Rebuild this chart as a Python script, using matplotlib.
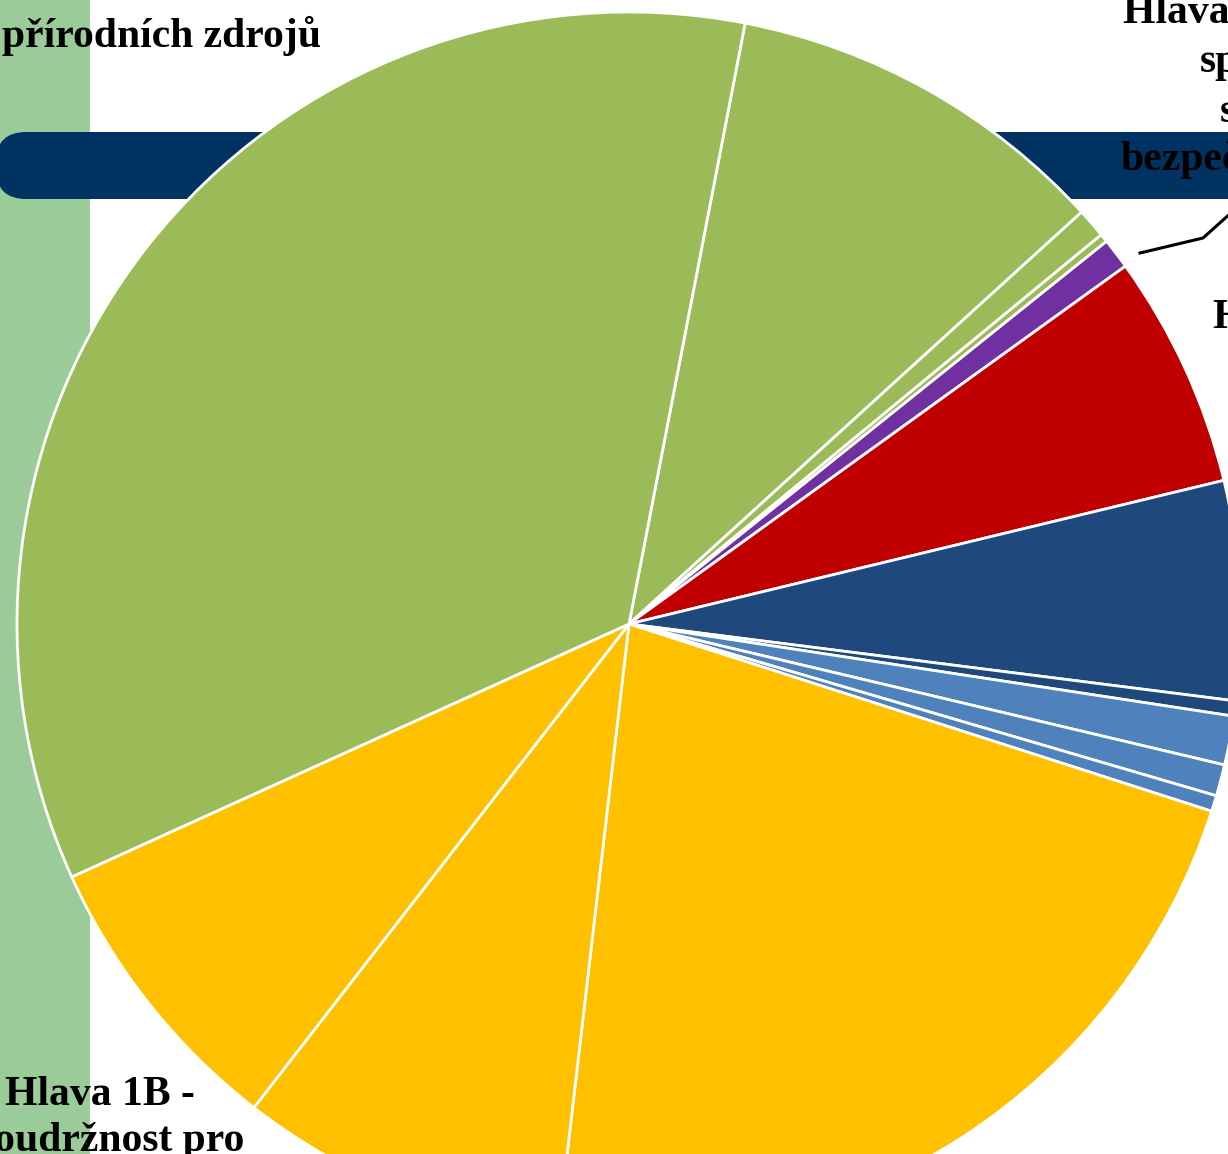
import matplotlib
matplotlib.use("Agg")
import matplotlib.pyplot as plt
from matplotlib.patches import FancyBboxPatch, Rectangle

# Slice shares (percent), clockwise from the top boundary
categories = ["Hlava 2 - c", "Hlava 2 - b", "Hlava 2 - a", "Hlava 3", "Hlava 4",
              "Hlava 5 - a", "Hlava 5 - b", "Hlava 5 - c", "Hlava 5 - d", "Hlava 5 - e",
              "Hlava 1A - a", "Hlava 1B - a", "Hlava 1B - b", "Hlava 2 - d"]
values = [10.21, 0.78, 0.22, 0.81, 6.17,
          5.78, 0.40, 1.29, 0.83, 0.42,
          21.90, 8.65, 7.72, 34.82]
colors = ["#9BBB59", "#9BBB59", "#9BBB59", "#7030A0", "#C00000",
          "#1F497D", "#1F497D", "#4F81BD", "#4F81BD", "#4F81BD",
          "#FFC000", "#FFC000", "#FFC000", "#9BBB59"]

W, H = 1228, 1154
fig = plt.figure(figsize=(W / 100, H / 100), dpi=100)
ax = fig.add_axes([0, 0, 1, 1])
ax.set_xlim(0, W)
ax.set_ylim(0, H)
ax.set_aspect("equal")
ax.axis("off")

# background decorations
ax.add_patch(Rectangle((0, 0), 90, H, facecolor="#9CCB9A", edgecolor="none", zorder=0))
ax.add_patch(FancyBboxPatch((-4, H - 199), 1500, 67,
                            boxstyle="round,pad=0,rounding_size=30",
                            facecolor="#003262", edgecolor="none", zorder=1))

cx, cy, r = 629, H - 624, 612
wedges, _ = ax.pie(values, colors=colors, startangle=79.06, counterclock=False,
                   center=(cx, cy), radius=r,
                   wedgeprops=dict(edgecolor="white", linewidth=2))
for w in wedges:
    w.set_zorder(2)
ax.set_xlim(0, W)
ax.set_ylim(0, H)

font = dict(family="Liberation Serif", fontweight="bold", fontsize=30, color="black", zorder=4)

ax.text(2, H - 47, "přírodních zdrojů", ha="left", va="baseline", **font)
ax.text(5, H - 1105, "Hlava 1B -", ha="left", va="baseline", **font)
ax.text(-22, H - 1151, "soudržnost pro", ha="left", va="baseline", **font)

ax.text(1123, H - 23, "Hlava 3 -", ha="left", va="baseline", **font)
ax.text(1200, H - 72, "spravedlnost", ha="left", va="baseline", **font)
ax.text(1220, H - 122, "svoboda a", ha="left", va="baseline", **font)
ax.text(1120, H - 170, "bezpečnost", ha="left", va="baseline", **font)
ax.text(1213, H - 328, "Hlava 4 -", ha="left", va="baseline", **font)

# leader line
ax.plot([1140, 1203, 1232], [H - 253, H - 238, H - 212], color="black", lw=2.2, zorder=3)

fig.savefig("out.png", dpi=100)
